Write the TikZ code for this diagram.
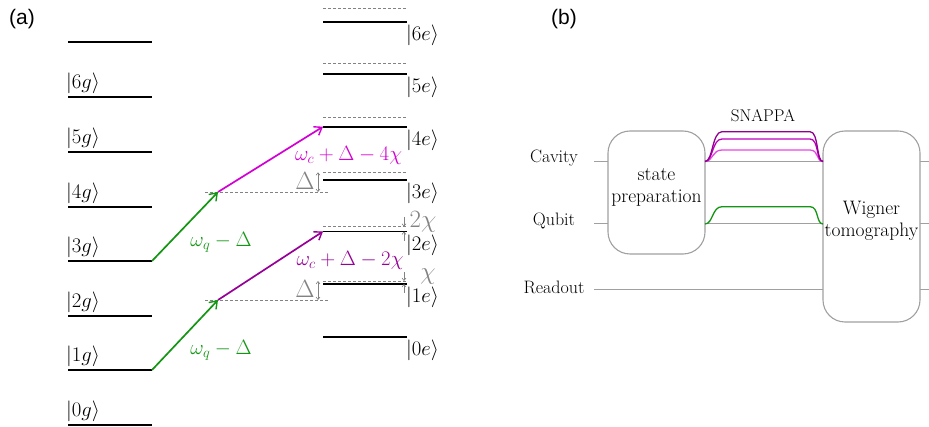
\documentclass[tikz,border=0pt]{standalone}
\usepackage{fontspec}
\newfontfamily\panelfont{Liberation Sans}
\usetikzlibrary{arrows.meta}
\definecolor{qgreen}{RGB}{20,150,20}
\definecolor{cmag}{RGB}{210,0,210}
\definecolor{cpurp}{RGB}{150,0,150}
\definecolor{snapA}{RGB}{145,0,145}
\definecolor{snapB}{RGB}{190,0,190}
\definecolor{snapC}{RGB}{230,70,230}
\definecolor{dimgray}{RGB}{130,130,130}
\definecolor{wiregray}{RGB}{160,160,160}
\tikzset{
  level/.style={line width=1.8pt, black},
  shifted/.style={dashed, dash pattern=on 3pt off 2pt, line width=0.9pt, dimgray},
  trans/.style={line width=1.7pt, -{Straight Barb[length=7pt,width=10pt,line width=1.4pt]}},
  gap/.style={line width=0.6pt, dimgray, {Straight Barb[length=2.5pt,width=4pt]}-{Straight Barb[length=2.5pt,width=4pt]}},
  tick/.style={line width=0.6pt, dimgray, -{Straight Barb[length=2.5pt,width=4pt]}},
  ket/.style={inner sep=0pt, font=\fontsize{20}{22}\selectfont},
  translabel/.style={inner sep=0pt, font=\fontsize{22}{24}\selectfont},
  gaplabel/.style={inner sep=0pt, font=\fontsize{25}{27}\selectfont, text=dimgray},
  wire/.style={line width=1pt, wiregray},
  block/.style={draw=wiregray, line width=1.1pt, fill=white, rounded corners=22pt},
  blocktext/.style={align=center, inner sep=0pt, font=\fontsize{19.5}{22}\selectfont},
  wirelabel/.style={inner sep=0pt, font=\fontsize{18}{20}\selectfont},
  pulse/.style={line width=1.3pt},
  panel/.style={inner sep=0pt, font=\panelfont\fontsize{21}{23}\selectfont}
}
\begin{document}
\begin{tikzpicture}[x=1pt,y=-1pt]
\useasboundingbox (0,0) rectangle (929,427);

% ---------------- panel (a): energy levels ----------------
\node[panel] (pa) at (22,19) {(a)};

% qubit ground manifold |n g>
\foreach \n/\y in {0/425,1/370,2/316,3/261,4/207,5/152,6/97,7/42}{
  \draw[level] (68,\y) coordinate (g\n L) -- (152,\y) coordinate (g\n R);
}
\foreach \n/\y in {0/425,1/370,2/316,3/261,4/207,5/152,6/97}{
  \node[ket, anchor=west] (kg\n) at (66,\y-14) {$|\n g\rangle$};
}

% qubit excited manifold |n e> (solid) and unshifted positions (dashed)
\foreach \n/\y in {0/337,1/284,2/231.5,3/180,4/126.7,5/74.3,6/21.7}{
  \draw[level] (323,\y) coordinate (e\n L) -- (407,\y) coordinate (e\n R);
  \node[ket, anchor=west] (ke\n) at (406,\y+13.5) {$|\n e\rangle$};
}
\foreach \n/\y in {1/281,2/226.7,3/172.3,4/117.7,5/63.3,6/8.3}{
  \draw[shifted] (323,\y) coordinate (d\n L) -- (407,\y) coordinate (d\n R);
}

% virtual levels reached by the detuned qubit drive
\draw[shifted] (205,300) coordinate (v1L) -- (328,300) coordinate (v1R);
\draw[shifted] (205,192) coordinate (v2L) -- (328,192) coordinate (v2R);
\coordinate (v1) at (218,300);
\coordinate (v2) at (218,192);

% transitions
\draw[trans, qgreen] (g1R) -- (v1);
\draw[trans, qgreen] (g3R) -- (v2);
\draw[trans, cpurp] (v1) -- (e2L);
\draw[trans, cmag] (v2) -- (e4L);

\node[translabel, text=qgreen] (lq1) at (221,350) {$\omega_q-\Delta$};
\node[translabel, text=qgreen] (lq2) at (221,242) {$\omega_q-\Delta$};
\node[translabel, text=cpurp] (lc2) at (350,260) {$\omega_c+\Delta-2\chi$};
\node[translabel, text=cmag] (lc4) at (348.5,155) {$\omega_c+\Delta-4\chi$};

% detuning markers
\coordinate (dA1) at (318,281); \coordinate (dA2) at (318,300);
\coordinate (dB1) at (318,172.3); \coordinate (dB2) at (318,192);
\draw[gap] (dA1) -- (dA2);
\draw[gap] (dB1) -- (dB2);
\node[gaplabel] (del1) at (305,289) {$\Delta$};
\node[gaplabel] (del2) at (305,181) {$\Delta$};

% dispersive shift markers
\coordinate (c2a) at (404,217); \coordinate (c2b) at (404,226.7);
\coordinate (c2c) at (404,241); \coordinate (c2d) at (404,231.5);
\coordinate (c1a) at (404,272); \coordinate (c1b) at (404,281);
\coordinate (c1c) at (404,293); \coordinate (c1d) at (404,284);
\draw[tick] (c2a) -- (c2b);
\draw[tick] (c2c) -- (c2d);
\draw[tick] (c1a) -- (c1b);
\draw[tick] (c1c) -- (c1d);
\node[gaplabel] (chi2) at (423,222) {$2\chi$};
\node[gaplabel] (chi1) at (428,277) {$\chi$};

% ---------------- panel (b): pulse sequence ----------------
\node[panel] (pb) at (564,19) {(b)};

\coordinate (cavS) at (594,161.5); \coordinate (cavE) at (929,161.5);
\coordinate (qubS) at (594,224);   \coordinate (qubE) at (929,224);
\coordinate (roS) at (594,290);    \coordinate (roE) at (929,290);
\draw[wire] (cavS) -- (cavE);
\draw[wire] (qubS) -- (qubE);
\draw[wire] (roS) -- (roE);

\node[wirelabel] (lcav) at (554,158) {Cavity};
\node[wirelabel] (lqub) at (554,221) {Qubit};
\node[wirelabel] (lro) at (554,287) {Readout};

\draw[block] (608,131) rectangle (705,254);
\node[blocktext] (prep) at (656.5,187) {state\\preparation};
\draw[block] (823,131) rectangle (920,322);
\node[blocktext] (wig) at (871.5,221) {Wigner\\tomography};

% SNAP pulses on the cavity line
\foreach \top/\col in {150/snapC,139/snapB,131.7/snapA}{
  \draw[pulse, \col] (705,161.5) .. controls (713,161.5) and (712,\top) .. (722,\top)
     -- (810,\top) .. controls (819,\top) and (816,161.5) .. (823,161.5);
}
\node[wirelabel, font=\fontsize{17}{20}\selectfont] (snap) at (763,116) {SNAPPA};

% qubit pulse
\draw[pulse, qgreen] (705,224) .. controls (713,224) and (712,206.7) .. (722,206.7)
   -- (810,206.7) .. controls (819,206.7) and (816,224) .. (823,224);
\end{tikzpicture}
\end{document}
